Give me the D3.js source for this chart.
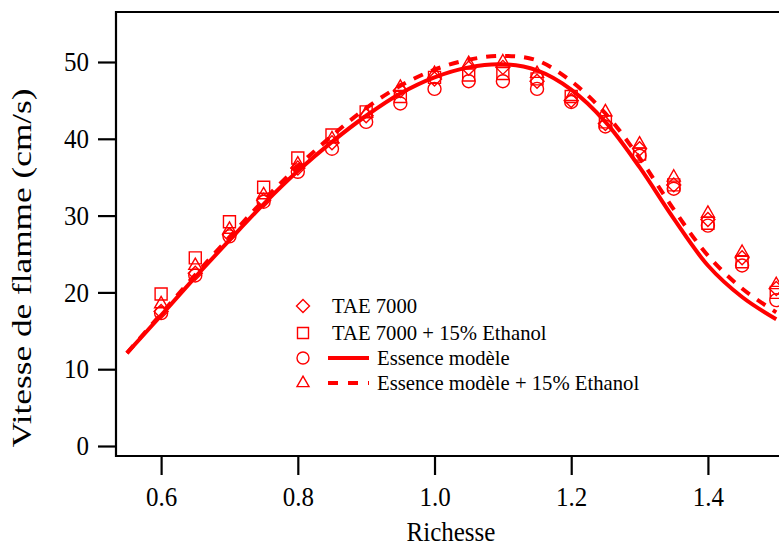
<!DOCTYPE html>
<html><head><meta charset="utf-8">
<script src="https://cdn.jsdelivr.net/npm/d3@7"></script>
<style>body{margin:0;background:#fff}svg{display:block}text{font-family:"Liberation Serif","Times New Roman",serif}</style>
</head><body><svg id="c" width="779" height="547"></svg>
<script>
const richesse = [0.6,0.65,0.7,0.75,0.8,0.85,0.9,0.95,1.0,1.05,1.1,1.15,1.2,1.25,1.3,1.35,1.4,1.45,1.5];
const tae7000 = [17.5,22.5,27.5,32,36.2,39.5,43,46.3,47.8,49.2,49.3,47.5,45,42,38.7,34,29.5,24.5,20.5];
const tae7000Eth = [19.8,24.5,29.2,33.7,37.5,40.5,43.5,45.5,48,48.3,48.5,47.8,45.5,42.2,38,34,29,24,20];
const essence = [17.3,22.2,27.3,31.8,35.7,38.7,42.2,44.6,46.5,47.5,47.5,46.5,44.8,41.6,37.8,33.5,28.7,23.5,19];
const essenceEth = [18.5,23.5,28.2,32.7,36.7,40,43.3,46.7,48.5,49.8,50,48.5,45.5,43.5,39.3,35,30.3,25.2,21];
const modelX = [0.55,0.6,0.65,0.7,0.75,0.8,0.85,0.9,0.95,1.0,1.05,1.1,1.15,1.2,1.25,1.3,1.35,1.4,1.45,1.5];
const modelEssence = [12.1,17,22,26.8,31.5,35.8,39.6,43,45.9,48,49.3,49.7,48.9,46.4,42.2,36.3,29.6,23.5,19.4,16.5];
const modelEssenceEth = [12.1,17.2,22.3,27.2,32,36.4,40.4,44,46.9,49,50.3,50.8,50.2,47.5,43.3,37.5,30.8,24.8,20.5,17.4];
const xTicks = [0.6,0.8,1.0,1.2,1.4];
const yTicks = [0,10,20,30,40,50];
const legendLabels = ["TAE 7000","TAE 7000 + 15% Ethanol","Essence modèle","Essence modèle + 15% Ethanol"];

const svg = d3.select("#c");
const red = "#ff0000";
const L=116, T=12, B=456, R=779;
const x = d3.scaleLinear().domain([0.534,1.504]).range([L,R]);
const y = d3.scaleLinear().domain([-1.302,56.51]).range([B,T]);

// frame
svg.append("path").attr("d",`M${R+5},${T}H${L}V${B}H${R+5}`).attr("fill","none").attr("stroke","#000").attr("stroke-width",2.2);

// axes
const xa = svg.append("g").attr("transform",`translate(0,${B})`)
  .call(d3.axisBottom(x).tickValues(xTicks).tickFormat(d3.format(".1f")).tickSize(19).tickPadding(10));
const ya = svg.append("g").attr("transform",`translate(${L},0)`)
  .call(d3.axisLeft(y).tickValues(yTicks).tickSize(18).tickPadding(9));
[xa,ya].forEach(a=>{a.select(".domain").remove();a.selectAll("line").attr("stroke","#000").attr("stroke-width",2.2);
  a.selectAll("text").attr("font-size",25).attr("fill","#000").attr("font-family","Liberation Serif, Times New Roman, serif")
   .attr("transform","scale(1,1.08)");});

svg.append("text").attr("transform","translate(451,541) scale(1,1.06)").attr("text-anchor","middle").attr("font-size",25).text("Richesse");
svg.append("text").attr("transform","translate(31,268) rotate(-90) scale(1.26,1)").attr("text-anchor","middle").attr("font-size",28).text("Vitesse de flamme (cm/s)");

// lines
const line = d3.line().x(d=>x(d[0])).y(d=>y(d[1])).curve(d3.curveCatmullRom.alpha(0.5));
const g = svg.append("g");
g.append("path").datum(modelX.map((v,i)=>[v,modelEssence[i]])).attr("d",line)
  .attr("fill","none").attr("stroke",red).attr("stroke-width",4);
g.append("path").datum(modelX.map((v,i)=>[v,modelEssenceEth[i]])).attr("d",line)
  .attr("fill","none").attr("stroke",red).attr("stroke-width",4).attr("stroke-dasharray","10,9");

// markers
const sym = {
  diamond: s=>`M0,${-s}L${s},0L0,${s}L${-s},0Z`,
  square: s=>`M${-s},${-s}H${s}V${s}H${-s}Z`,
  circle: s=>`M${-s},0A${s},${s} 0 1,0 ${s},0A${s},${s} 0 1,0 ${-s},0Z`,
  triangle: s=>`M0,${-s*1.15}L${s},${s*0.6}H${-s}Z`
};
const series = [
  {vals:tae7000, shape:"diamond", s:7},
  {vals:tae7000Eth, shape:"square", s:6},
  {vals:essence, shape:"circle", s:6.5},
  {vals:essenceEth, shape:"triangle", s:6.5}
];
series.forEach(se=>{
  g.selectAll(null).data(richesse.map((v,i)=>[v,se.vals[i]])).join("path")
   .attr("transform",d=>`translate(${x(d[0])},${y(d[1])})`).attr("d",sym[se.shape](se.s))
   .attr("fill","none").attr("stroke",red).attr("stroke-width",1.4);
});

// legend
const legY=[306,333,358,383], shapes=["diamond","square","circle","triangle"], lsz=[6.5,5.5,6,6];
const lg = svg.append("g");
legY.forEach((yy,i)=>{
  lg.append("path").attr("transform",`translate(303,${yy})`).attr("d",sym[shapes[i]](lsz[i]))
    .attr("fill","none").attr("stroke",red).attr("stroke-width",1.4);
  if(i>=2){
    lg.append("line").attr("x1",328).attr("x2",369).attr("y1",yy).attr("y2",yy).attr("stroke",red).attr("stroke-width",4)
      .attr("stroke-dasharray",i===3?"10,10":null);
  }
  lg.append("text").attr("transform",`translate(${i>=2?377:332},${yy+7}) scale(1,1.04)`).attr("font-size",20.7).attr("fill","#000").text(legendLabels[i]);
});
</script></body></html>
